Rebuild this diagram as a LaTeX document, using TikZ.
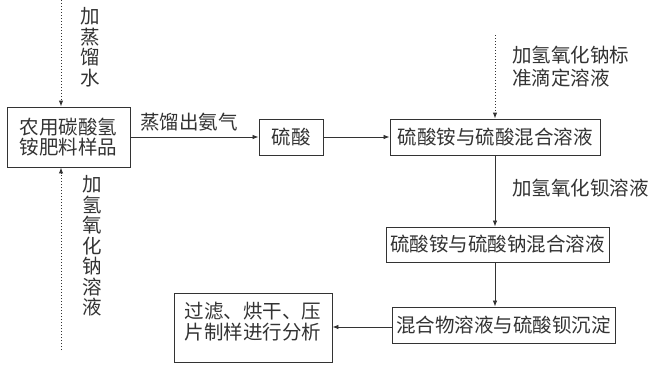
\documentclass[tikz,border=0pt]{standalone}
\usepackage{fontspec}
\setmainfont{Noto Sans CJK SC}
\usetikzlibrary{arrows.meta}
\definecolor{ink}{HTML}{333333}
\tikzset{
  box/.style={draw=ink, line width=0.9pt, inner sep=0pt, align=center, text=ink,
    font=\fontsize{19.5}{20.5}\selectfont},
  lab/.style={inner sep=0pt, align=center, text=ink, font=\fontsize{19.5}{23}\selectfont},
  vlab/.style={inner sep=0pt, align=center, text=ink, font=\fontsize{19.5}{20.5}\selectfont},
  flow/.style={draw=ink, line width=0.8pt, -{Latex[length=6pt,width=4.5pt]}},
  dotflow/.style={draw=ink, line width=1pt, dotted, -{Latex[length=6pt,width=4.5pt]}}
}
\begin{document}
\begin{tikzpicture}[x=1pt,y=-1pt]
\useasboundingbox (0,0) rectangle (651,367);
\fill[white] (0,0) rectangle (651,367);

\node[box, minimum width=123pt, minimum height=60pt] (sample) at (68.5,137) {农用碳酸氢\\铵肥料样品};
\node[box, minimum width=64pt, minimum height=36pt] (acid) at (291,137) {硫酸};
\node[box, minimum width=210pt, minimum height=36pt] (mix1) at (495,137) {硫酸铵与硫酸混合溶液};
\node[box, minimum width=223pt, minimum height=35pt] (mix2) at (497.5,244.5) {硫酸铵与硫酸钠混合溶液};
\node[box, minimum width=223pt, minimum height=36pt] (mix3) at (503.5,325) {混合物溶液与硫酸钡沉淀};
\node[box, minimum width=158pt, minimum height=69pt] (final) at (253,327.5) {};
\node[lab, font=\fontsize{19.5}{21}\selectfont] (finaltxt) at (253,322) {过滤、烘干、压\\片制样进行分析};

\coordinate (wtop) at (61,0);
\coordinate (wbot) at (61,350);
\coordinate (ntop) at (495,35);

\draw[dotflow] (wtop) -- (sample.north -| wtop);
\draw[dotflow] (wbot) -- (sample.south -| wbot);
\draw[dotflow] (ntop) -- (mix1.north -| ntop);

\draw[flow] (sample.east) -- (acid.west);
\draw[flow] (acid.east) -- (mix1.west);
\draw[flow] (mix1.south) -- (mix1.south |- mix2.north);
\draw[flow] (mix1.south |- mix2.south) -- (mix1.south |- mix3.north);
\draw[flow] (mix3.west |- 0,327) -- (final.east |- 0,327);

\node[vlab] (l1) at (90,47) {加\\蒸\\馏\\水};
\node[vlab] (l2) at (92,246) {加\\氢\\氧\\化\\钠\\溶\\液};
\node[lab, anchor=south west] (l3) at (140,131) {蒸馏出氨气};
\node[lab, align=left, anchor=west] (l4) at (512,67) {加氢氧化钠标\\准滴定溶液};
\node[lab, anchor=west] (l5) at (512,188) {加氢氧化钡溶液};
\end{tikzpicture}
\end{document}
